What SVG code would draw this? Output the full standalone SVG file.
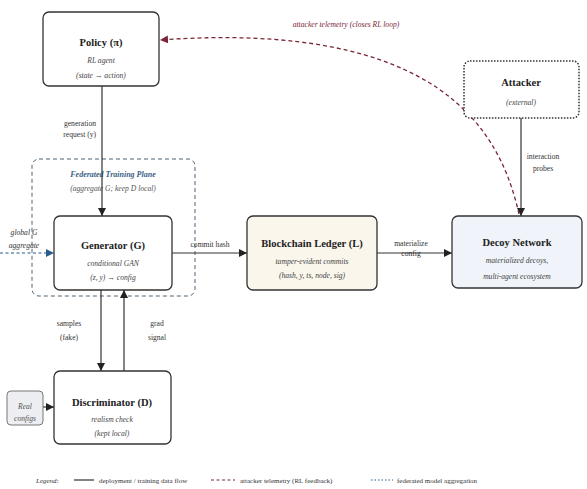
<svg xmlns="http://www.w3.org/2000/svg" width="587" height="489" viewBox="0 0 587 489">
<style>
text{font-family:"Liberation Serif","Times New Roman",serif;fill:#222}
.t{font-size:10.5px;font-weight:bold;text-anchor:middle}
.s{font-size:7.6px;font-style:italic;text-anchor:middle;fill:#444}
.l{font-size:7.6px;text-anchor:middle;fill:#333}
.lg{font-size:7px;fill:#333}
.box{fill:#fff;stroke:#333;stroke-width:1.3}
.e{fill:none;stroke:#333;stroke-width:1.2}
</style>
<defs>
<marker id="ab" markerWidth="8" markerHeight="8" refX="8" refY="4" orient="auto" markerUnits="userSpaceOnUse"><path d="M0,0 L8,4 L0,8 z" fill="#222"/></marker>
<marker id="ar" markerWidth="8" markerHeight="8" refX="8" refY="4" orient="auto" markerUnits="userSpaceOnUse"><path d="M0,0 L8,4 L0,8 z" fill="#7b2636"/></marker>
<marker id="au" markerWidth="8" markerHeight="8" refX="8" refY="4" orient="auto" markerUnits="userSpaceOnUse"><path d="M0,0 L8,4 L0,8 z" fill="#2b5d8a"/></marker>
</defs>

<g id="fedplane">
<rect x="32" y="159" width="163" height="137" rx="7" fill="none" stroke="#4d6274" stroke-width="1" stroke-dasharray="4 3"/>
<text x="113" y="177" style="font-size:8px;font-weight:bold;font-style:italic;text-anchor:middle;fill:#3a5f86">Federated Training Plane</text>
<text x="113" y="191" class="s" style="fill:#555">(aggregate G; keep D local)</text>
</g>

<g id="connectors">
<path class="e" d="M102,86 L102,216" marker-end="url(#ab)"/>
<path class="e" d="M101,290 L101,371" marker-end="url(#ab)"/>
<path class="e" d="M124,371 L124,290" marker-end="url(#ab)"/>
<path class="e" d="M172,253 L247,253" marker-end="url(#ab)"/>
<path class="e" d="M377,253 L452,253" marker-end="url(#ab)"/>
<path class="e" d="M521,118 L521,216" marker-end="url(#ab)"/>
<path class="e" d="M43,407 L54,407" marker-end="url(#ab)"/>
<path d="M0,253 L54,253" fill="none" stroke="#2b5d8a" stroke-width="1.1" stroke-dasharray="3 2.5" marker-end="url(#au)"/>
<path d="M519,214 C500,130 440,20 160,40" fill="none" stroke="#7b2636" stroke-width="1.3" stroke-dasharray="4 3" marker-end="url(#ar)"/>
<text x="96" y="126" class="l" style="text-anchor:end">generation</text>
<text x="96" y="137" class="l" style="text-anchor:end">request (y)</text>
<text x="24" y="235" class="l" style="font-style:italic">global G</text>
<text x="24" y="248" class="l" style="font-style:italic">aggregate</text>
<text x="210" y="247" class="l">commit hash</text>
<text x="411" y="246" class="l">materialize</text>
<text x="411" y="256" class="l">config</text>
<text x="543" y="159" class="l">interaction</text>
<text x="543" y="171" class="l">probes</text>
<text x="69" y="326" class="l">samples</text>
<text x="69" y="340" class="l">(fake)</text>
<text x="157" y="326" class="l">grad</text>
<text x="157" y="340" class="l">signal</text>
<text x="346" y="27" class="s" style="fill:#7b2636">attacker telemetry (closes RL loop)</text>
</g>

<g id="policy">
<rect class="box" x="43" y="12" width="116" height="74" rx="6"/>
<text x="101" y="46" class="t">Policy (π)</text>
<text x="101" y="63" class="s">RL agent</text>
<text x="101" y="78" class="s">(state → action)</text>
</g>

<g id="generator">
<rect class="box" x="54" y="216" width="118" height="74" rx="6"/>
<text x="113" y="249" class="t">Generator (G)</text>
<text x="113" y="266" class="s">conditional GAN</text>
<text x="113" y="280" class="s">(z, y) → config</text>
</g>

<g id="ledger">
<rect class="box" x="247" y="216" width="130" height="74" rx="6" style="fill:#faf6ec"/>
<text x="312" y="247" class="t">Blockchain Ledger (L)</text>
<text x="312" y="264" class="s">tamper-evident commits</text>
<text x="312" y="278" class="s">(hash, y, ts, node, sig)</text>
</g>

<g id="decoy">
<rect class="box" x="452" y="216" width="130" height="72" rx="6" style="fill:#f0f4fa"/>
<text x="517" y="246" class="t">Decoy Network</text>
<text x="517" y="263" class="s">materialized decoys,</text>
<text x="517" y="279" class="s">multi-agent ecosystem</text>
</g>

<g id="attacker">
<rect x="464" y="61" width="115" height="57" rx="6" fill="#fff" stroke="#333" stroke-width="1.5" stroke-dasharray="1.5 1.5"/>
<text x="521" y="86" class="t">Attacker</text>
<text x="521" y="105" class="s">(external)</text>
</g>

<g id="discriminator">
<rect class="box" x="54" y="371" width="117" height="73" rx="6"/>
<text x="112" y="406" class="t">Discriminator (D)</text>
<text x="112" y="422" class="s">realism check</text>
<text x="112" y="436" class="s">(kept local)</text>
</g>

<g id="realconfigs">
<rect x="7" y="391" width="36" height="34" rx="4" fill="#eceef1" stroke="#777" stroke-width="1"/>
<text x="25" y="409" class="s" style="fill:#555">Real</text>
<text x="25" y="421" class="s" style="fill:#555">configs</text>
</g>

<g id="legend">
<text x="36" y="483" class="lg" style="font-style:italic">Legend:</text>
<line x1="74" y1="480" x2="94" y2="480" stroke="#333" stroke-width="1.2"/>
<text x="99" y="483" class="lg">deployment / training data flow</text>
<line x1="211" y1="480" x2="235" y2="480" stroke="#7b2636" stroke-width="1.2" stroke-dasharray="3 2.5"/>
<text x="240" y="483" class="lg">attacker telemetry (RL feedback)</text>
<line x1="371" y1="480" x2="393" y2="480" stroke="#2b5d8a" stroke-width="1.1" stroke-dasharray="1.5 2"/>
<text x="397" y="483" class="lg">federated model aggregation</text>
</g>
</svg>
